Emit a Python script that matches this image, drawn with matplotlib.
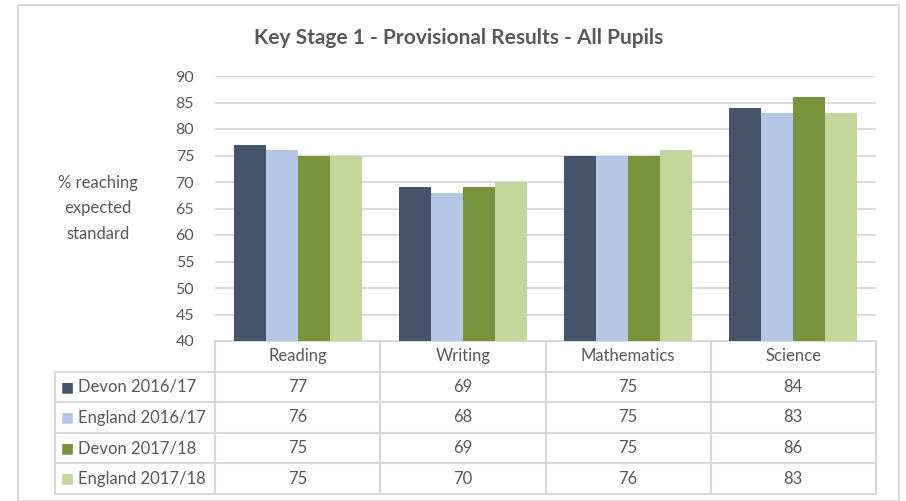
import matplotlib
matplotlib.use("Agg")
import matplotlib.pyplot as plt
import numpy as np

plt.rcParams['font.family'] = ['Lato', 'DejaVu Sans']

# dados
subjects = ['Reading', 'Writing', 'Mathematics', 'Science']
series_names = ['Devon 2016/17', 'England 2016/17', 'Devon 2017/18', 'England 2017/18']
devon_1617 = [77, 69, 75, 84]
england_1617 = [76, 68, 75, 83]
devon_1718 = [75, 69, 75, 86]
england_1718 = [75, 70, 76, 83]
series_values = [devon_1617, england_1617, devon_1718, england_1718]
colors = ['#44546A', '#B4C7E7', '#77933C', '#C3D69B']
yticks = [40, 45, 50, 55, 60, 65, 70, 75, 80, 85, 90]

W, H = 906, 501
fig = plt.figure(figsize=(W / 100, H / 100), dpi=100)
txt = '#595959'
grid = '#D9D9D9'

# borda externa
fig.patches.append(plt.Rectangle((18 / W, 0), (899 - 18) / W, 1 - 5 / H,
                                 transform=fig.transFigure, fill=False,
                                 edgecolor=grid, linewidth=1.5))

ax = fig.add_axes([215 / W, 1 - 341 / H, (876 - 215) / W, (341 - 76) / H])

x = np.arange(len(subjects))
bw = 32 / 165
for i, (vals, col) in enumerate(zip(series_values, colors)):
    ax.bar(x + (i - 1.5) * bw, np.array(vals) - 40, bw, bottom=40, color=col,
           zorder=3)

ax.set_xlim(-0.5, len(subjects) - 0.5)
ax.set_ylim(40, 90)
ax.set_yticks(yticks)
ax.set_xticks([])
ax.tick_params(axis='y', length=0, labelsize=11.5, labelcolor=txt, pad=15)
for s in ax.spines.values():
    s.set_visible(False)
for t in yticks[1:]:
    ax.axhline(t, color=grid, linewidth=1.3, zorder=1)

ax.text(-0.5 - 117 / 165, 65, '% reaching\nexpected\nstandard', ha='center',
        va='center', fontsize=12, color=txt, linespacing=1.75)

fig.text(459 / W, 1 - 38 / H, 'Key Stage 1 - Provisional Results - All Pupils',
         ha='center', va='center', fontsize=15, fontweight='bold', color=txt)

# tabela de dados
row_h = 30.6 / 265
n_rows = len(series_names) + 1
left = -0.5 - 160 / 165
tr = ax.get_xaxis_transform()
kw = dict(color=grid, linewidth=1.5, transform=tr, clip_on=False)
ax.plot([-0.5, 3.5], [0, 0], **kw)
for r in range(1, n_rows + 1):
    ax.plot([left, 3.5], [-r * row_h] * 2, **kw)
ax.plot([left, left], [-row_h, -n_rows * row_h], **kw)
for c in range(len(subjects) + 1):
    ax.plot([c - 0.5] * 2, [0, -n_rows * row_h], **kw)

for c, name in enumerate(subjects):
    ax.text(c, -0.5 * row_h, name, ha='center', va='center', fontsize=12,
            color=txt, transform=tr)
for r, (name, vals, col) in enumerate(zip(series_names, series_values, colors)):
    yc = -(r + 1.5) * row_h
    ax.text(left + 6 / 165, yc, '\u25A0', ha='left', va='center', fontsize=10,
            color=col, transform=tr, family='DejaVu Sans')
    ax.text(left + 23 / 165, yc, name, ha='left', va='center', fontsize=12,
            color=txt, transform=tr)
    for c, v in enumerate(vals):
        ax.text(c, yc, str(v), ha='center', va='center', fontsize=12,
                color=txt, transform=tr)

fig.savefig('out.png', dpi=100)
